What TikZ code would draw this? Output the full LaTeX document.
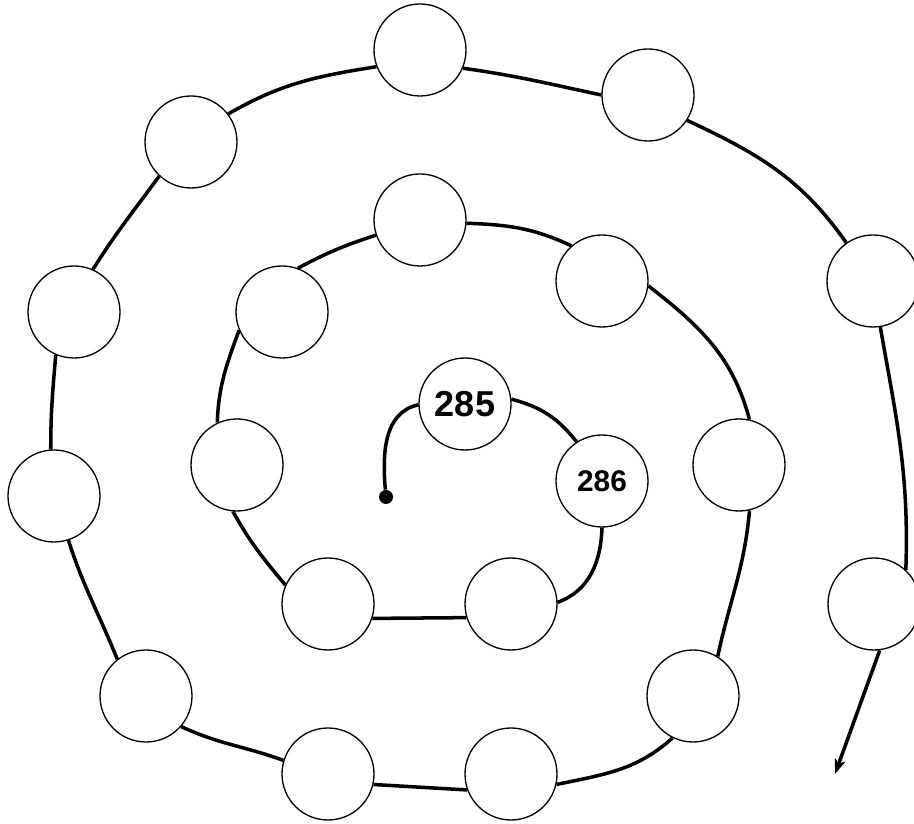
\documentclass[tikz,border=0pt]{standalone}
\usepackage{fontspec}
\setmainfont{Liberation Sans}
\usetikzlibrary{arrows.meta}

\begin{document}
\begin{tikzpicture}[ball/.style={circle, draw, line width=0.75pt, minimum size=1.84cm, inner sep=0pt},
    trail/.style={line width=2pt},
    >={Stealth[length=3mm, width=2.2mm, inset=0.8mm]}]
    \useasboundingbox (0,0) rectangle (18.28,16.46);

    \node[circle, fill, inner sep=0pt, minimum size=0.28cm] (start) at (7.72,6.52) {};

    \node[ball] (n285) at (9.30,8.38) {\fontsize{20.5}{20}\selectfont\bfseries 285};
    \node[ball] (n286) at (12.04,6.84) {\fontsize{17}{17}\selectfont\bfseries 286};
    \node[ball] (n287) at (10.22,4.38) {};
    \node[ball] (n288) at (6.56,4.38) {};
    \node[ball] (n289) at (4.74,7.16) {};
    \node[ball] (n290) at (5.64,10.22) {};
    \node[ball] (n291) at (8.40,12.06) {};
    \node[ball] (n292) at (12.04,10.84) {};
    \node[ball] (n293) at (14.78,7.16) {};
    \node[ball] (n294) at (13.86,2.54) {};
    \node[ball] (n295) at (10.22,0.98) {};
    \node[ball] (n296) at (6.56,0.98) {};
    \node[ball] (n297) at (2.92,2.54) {};
    \node[ball] (n298) at (1.08,6.54) {};
    \node[ball] (n299) at (1.48,10.22) {};
    \node[ball] (n300) at (3.82,13.62) {};
    \node[ball] (n301) at (8.40,15.46) {};
    \node[ball] (n302) at (12.96,14.56) {};
    \node[ball] (n303) at (17.46,10.84) {};
    \node[ball] (n304) at (17.48,4.38) {};

    \coordinate (finish) at (16.70,0.98);

    % inner turn
    \draw[trail] (start.95) to[out=95,in=192] (n285.181);
    \draw[trail] (n285.6) to[out=-15,in=128] (n286.123);
    \draw[trail] (n286.-90) to[out=-92,in=20] (n287.2);
    \draw[trail] (n287.197) -- (n288.-18);
    \draw[trail] (n288.156) to[out=130,in=-61] (n289.-95);
    \draw[trail] (n289.115) to[out=88,in=250] (n290.203);
    \draw[trail] (n290.70) to[out=28,in=198] (n291.199);
    \draw[trail] (n291.-4) to[out=-2,in=155] (n292.131);
    \draw[trail] (n292.-6) to[out=-38,in=105] (n293.77);

    % outer turn
    \draw[trail] (n293.-77) to[out=-95,in=78] (n294.58);
    \draw[trail] (n294.244) to[out=222,in=12] (n295.-13);
    \draw[trail] (n295.200) -- (n296.-13);
    \draw[trail] (n296.163) to[out=160,in=-25] (n297.-41);
    \draw[trail] (n297.128) to[out=112,in=-72] (n298.-72);
    \draw[trail] (n298.94) to[out=90,in=-95] (n299.-113);
    \draw[trail] (n299.66) to[out=58,in=234] (n300.227);
    \draw[trail] (n300.37) to[out=30,in=189] (n301.201);
    \draw[trail] (n301.-23) to[out=-8,in=168] (n302.180);
    \draw[trail] (n302.-33) to[out=-25,in=125] (n303.125);
    \draw[trail] (n303.-81) to[out=-80,in=88] (n304.47);
    \draw[trail, ->] (n304.-83) -- (finish);

\end{tikzpicture}
\end{document}
